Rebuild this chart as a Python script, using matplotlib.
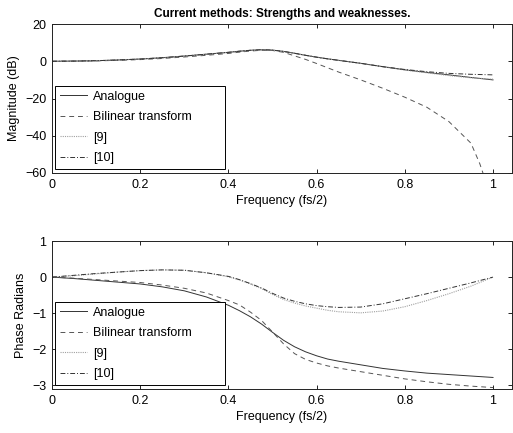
import matplotlib
matplotlib.use("Agg")
import matplotlib.pyplot as plt
from matplotlib.ticker import FormatStrFormatter

plt.rcParams["font.family"] = ["Liberation Sans", "DejaVu Sans"]
plt.rcParams["font.size"] = 9

# frequency grid (fs/2), finer around the resonance
freq = [0.0, 0.05, 0.1, 0.15, 0.2, 0.25, 0.3, 0.35, 0.4, 0.425, 0.45, 0.475, 0.5,
        0.525, 0.55, 0.575, 0.6, 0.625, 0.65, 0.7, 0.75, 0.8, 0.85, 0.9, 0.95, 1.0]

# magnitude (dB)
mag_analogue = [0, 0.1, 0.3, 0.7, 1.2, 1.9, 2.8, 3.8, 4.8, 5.4, 5.9, 6.2, 6.0,
                5.3, 4.3, 3.2, 2.2, 1.3, 0.5, -1.1, -2.9, -4.6, -6.0, -7.3, -8.7, -10.0]
mag_ref9 = [0, 0.1, 0.3, 0.7, 1.2, 1.9, 2.8, 3.8, 4.8, 5.4, 5.9, 6.2, 6.0,
            5.3, 4.3, 3.2, 2.2, 1.3, 0.5, -1.1, -2.9, -4.7, -6.2, -7.7, -8.9, -9.6]
mag_ref10 = [0, 0.1, 0.3, 0.7, 1.2, 1.9, 2.8, 3.8, 4.8, 5.4, 5.9, 6.2, 6.0,
             5.3, 4.3, 3.2, 2.2, 1.3, 0.5, -1.1, -2.9, -4.4, -5.6, -6.5, -7.0, -7.3]
freq_bl = [0.0, 0.05, 0.1, 0.15, 0.2, 0.25, 0.3, 0.35, 0.4, 0.425, 0.45, 0.475, 0.5,
           0.525, 0.55, 0.575, 0.6, 0.625, 0.65, 0.7, 0.75, 0.8, 0.85, 0.9, 0.95,
           0.97, 0.98, 0.99]
mag_bilinear = [0, 0.1, 0.2, 0.5, 0.9, 1.5, 2.3, 3.2, 4.2, 4.9, 5.5, 5.9, 5.8,
                4.8, 2.9, 1.0, -1.2, -3.5, -5.8, -10.0, -14.5, -19.3, -24.7, -32.4, -44.0,
                -55.0, -62.0, -75.0]

# phase (radians)
ph_analogue = [0, -0.04, -0.09, -0.14, -0.19, -0.27, -0.38, -0.55, -0.78, -0.93, -1.1, -1.3, -1.53,
               -1.75, -1.93, -2.07, -2.18, -2.27, -2.33, -2.43, -2.53, -2.6, -2.66, -2.7, -2.74, -2.78]
ph_bilinear = [0, -0.03, -0.07, -0.11, -0.15, -0.22, -0.31, -0.44, -0.65, -0.77, -0.97, -1.2, -1.52,
               -1.85, -2.12, -2.28, -2.38, -2.46, -2.52, -2.62, -2.72, -2.82, -2.9, -2.97, -3.02, -3.06]
ph_ref9 = [0, 0.04, 0.09, 0.14, 0.18, 0.2, 0.19, 0.12, 0.01, -0.08, -0.19, -0.32, -0.48,
           -0.62, -0.72, -0.8, -0.86, -0.92, -0.96, -0.99, -0.94, -0.82, -0.65, -0.46, -0.25, 0.0]
ph_ref10 = [0, 0.05, 0.1, 0.14, 0.18, 0.2, 0.19, 0.12, 0.02, -0.07, -0.18, -0.3, -0.45,
            -0.58, -0.67, -0.74, -0.79, -0.82, -0.84, -0.83, -0.74, -0.6, -0.46, -0.31, -0.16, 0.0]

labels = ["Analogue", "Bilinear transform", "[9]", "[10]"]
styles = [dict(color="#333333", linestyle="-", linewidth=0.7),
          dict(color="#555555", linestyle=(0, (5, 4)), linewidth=0.7),
          dict(color="#a0a0a0", linestyle=(0, (1, 1)), linewidth=0.8),
          dict(color="#333333", linestyle=(0, (5, 2, 1, 2)), linewidth=0.7)]

fig = plt.figure(figsize=(5.13, 4.33), dpi=100)
ax1 = fig.add_axes([0.1014, 0.6005, 0.8966, 0.344])
ax2 = fig.add_axes([0.1014, 0.1016, 0.8966, 0.3418])

ax1.plot(freq, mag_analogue, label=labels[0], **styles[0])
ax1.plot(freq_bl, mag_bilinear, label=labels[1], **styles[1])
ax1.plot(freq, mag_ref9, label=labels[2], **styles[2])
ax1.plot(freq, mag_ref10, label=labels[3], **styles[3])
ax1.set_ylim(-60, 20)
ax1.set_yticks([-60, -40, -20, 0, 20])
ax1.set_ylabel("Magnitude (dB)")
ax1.set_title("Current methods: Strengths and weaknesses.", fontsize=8.5,
              fontweight="bold", pad=5)

ax2.plot(freq, ph_analogue, label=labels[0], **styles[0])
ax2.plot(freq, ph_bilinear, label=labels[1], **styles[1])
ax2.plot(freq, ph_ref9, label=labels[2], **styles[2])
ax2.plot(freq, ph_ref10, label=labels[3], **styles[3])
ax2.set_ylim(-3.1, 1)
ax2.set_yticks([-3, -2, -1, 0, 1])
ax2.set_ylabel("Phase Radians")

for ax, top in [(ax1, 0.584), (ax2, 0.588)]:
    ax.set_xlim(0, 1.043)
    ax.set_xticks([0, 0.2, 0.4, 0.6, 0.8, 1.0])
    ax.xaxis.set_major_formatter(FormatStrFormatter("%g"))
    ax.set_xlabel("Frequency (fs/2)", labelpad=3)
    ax.tick_params(direction="in", top=True, right=True, length=3, width=0.6,
                   labelsize=9, pad=4)
    for sp in ax.spines.values():
        sp.set_linewidth(0.7)
        sp.set_color("#222222")
    # legend box is wider than its text, as in the original
    leg = ax.legend(loc="upper left", bbox_to_anchor=(0.0065, top - 0.56, 0.37, 0.56),
                    mode="expand", borderaxespad=0,
                    fancybox=False, framealpha=1, edgecolor="black",
                    handlelength=2.2, handletextpad=0.45, labelspacing=0.68,
                    borderpad=0.38, fontsize=9)
    leg.get_frame().set_linewidth(0.7)

fig.savefig("out.png", dpi=100)
